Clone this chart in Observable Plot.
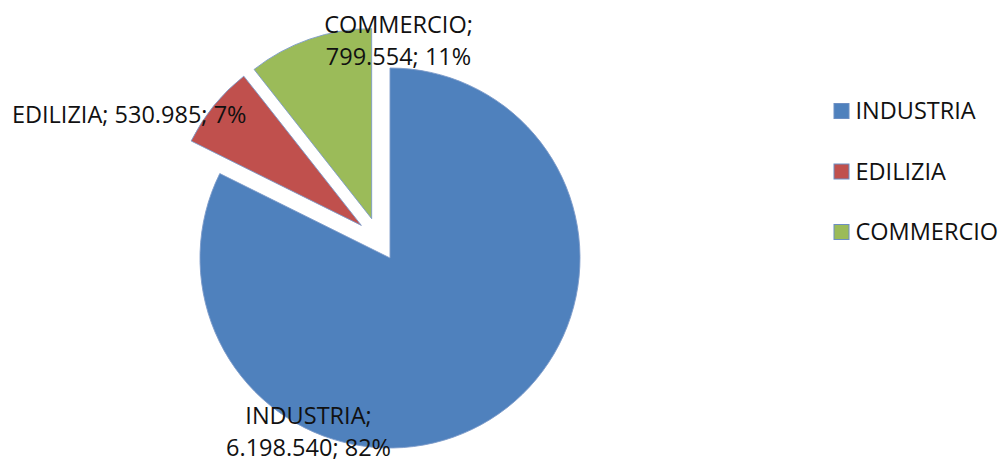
<!DOCTYPE html>
<html><head><meta charset="utf-8">
<script src="https://cdn.jsdelivr.net/npm/d3@7"></script>
<script src="https://cdn.jsdelivr.net/npm/@observablehq/plot@0.6"></script>
<style>html,body{margin:0;padding:0;background:#fff}</style>
</head><body><div id="chart"></div>
<script>
// ---- data ----
const categories = ["INDUSTRIA", "EDILIZIA", "COMMERCIO"];
const values = [6198540, 530985, 799554];
const valueLabels = ["6.198.540", "530.985", "799.554"];
const percentLabels = ["82%", "7%", "11%"];
const colors = ["#4F81BD", "#C0504D", "#9BBB59"];

// ---- layout / style ----
const W = 1000, H = 462;
const pie = {cx: 390, cy: 258, r: 190};
const explode = [{d: 0, a: 0}, {d: 43.4, a: 318.7}, {d: 43.4, a: 335}];
const labelLayout = [
  {x: 308, y: 455, anchor: "middle", lines: 2},
  {x: 246, y: 122, anchor: "end", lines: 1},
  {x: 398, y: 64, anchor: "middle", lines: 2}
];
const legend = {x: 834, size: 15, textX: 855, top: 111, step: 60.5};
const fontSize = 23.5;

const rows = categories.map((c, i) => ({
  category: c, value: values[i], valueLabel: valueLabels[i], pct: percentLabels[i], i
}));
const arcs = d3.pie().sort(null).value(d => d.value)(rows);

function pieMark(index, scales) {
  const g = d3.create("svg:g");
  const x0 = scales.x(pie.cx), y0 = scales.y(pie.cy);
  const R = scales.x(pie.cx + pie.r) - x0;
  const arc = d3.arc().innerRadius(0).outerRadius(R);
  arcs.forEach((a, i) => {
    const t = explode[i].a * Math.PI / 180;
    const dx = Math.sin(t) * explode[i].d, dy = -Math.cos(t) * explode[i].d;
    g.append("path")
      .attr("d", arc(a))
      .attr("transform", `translate(${x0 + dx},${y0 + dy})`)
      .attr("fill", scales.color(a.data.category))
      .attr("stroke", "#7d9bc9")
      .attr("stroke-width", 0.9);
  });
  return g.node();
}

const labelText = d => {
  const L = labelLayout[d.i];
  return L.lines === 2 ? `${d.category};\n${d.valueLabel}; ${d.pct}` : `${d.category}; ${d.valueLabel}; ${d.pct}`;
};

const chart = Plot.plot({
  width: W, height: H, margin: 0,
  x: {domain: [0, W], range: [0, W], axis: null},
  y: {domain: [0, H], range: [0, H], axis: null},
  color: {domain: categories, range: colors},
  style: {fontFamily: "'Open Sans', sans-serif", fontSize: fontSize + "px", color: "#111", background: "#fff", overflow: "visible"},
  marks: [
    pieMark,
    ...[0, 1, 2].map(i => Plot.text([rows[i]], {
      x: labelLayout[i].x, y: labelLayout[i].y,
      text: labelText, textAnchor: labelLayout[i].anchor,
      lineAnchor: "bottom", lineHeight: 1.34,
      fill: "#111", fontSize: fontSize
    })),
    Plot.rect(rows, {
      x1: legend.x, x2: legend.x + legend.size,
      y1: d => legend.top + d.i * legend.step - legend.size / 2,
      y2: d => legend.top + d.i * legend.step + legend.size / 2,
      fill: "category", stroke: "#6d8fc4", strokeWidth: 1
    }),
    Plot.text(rows, {
      x: legend.textX, y: d => legend.top + d.i * legend.step,
      text: "category", textAnchor: "start", fill: "#111", fontSize: fontSize
    })
  ]
});
document.getElementById("chart").appendChild(chart);
</script>
</body></html>
